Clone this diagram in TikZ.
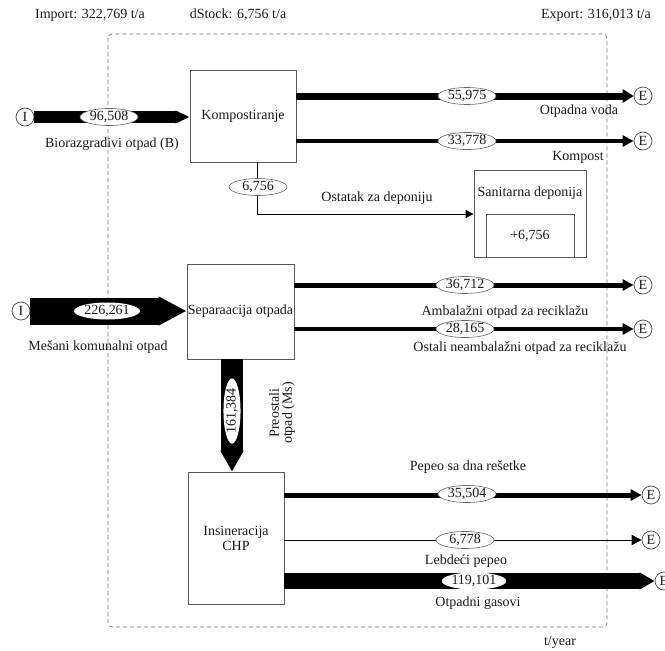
\documentclass[tikz,border=0pt]{standalone}
\usepackage{fontspec}
\setmainfont{Liberation Serif}
\usetikzlibrary{arrows.meta,shapes.geometric,calc}
\begin{document}
\begin{tikzpicture}[x=1pt,y=-1pt,
  every node/.style={font=\fontsize{14}{15}\selectfont, text=black!90},
  proc/.style={draw=black!65, line width=0.8pt, inner sep=0pt},
  io/.style={draw=black!70, circle, line width=0.7pt, minimum size=18pt, inner sep=0pt},
  val/.style={draw=black!60, ellipse, fill=white, line width=0.6pt, inner sep=0.3pt, minimum width=58pt, minimum height=16pt},
  flow/.style={draw=black, line cap=butt},
  bigflow/.style={draw=black, line cap=butt, -{Triangle[length=#1, width=0pt 1]}},
  lbl/.style={inner sep=1pt}
]
\useasboundingbox (0,0) rectangle (665,651);

% system boundary
\draw[black!55, dashed, dash pattern=on 4pt off 3pt, line width=0.7pt, rounded corners=4pt] (108,34) rectangle (607,627);

% top labels
\node[lbl] (imp) at (90,15) {Import: 322,769 t/a};
\node[lbl] (dst) at (238,15) {dStock: 6,756 t/a};
\node[lbl] (exp) at (596,15) {Export: 316,013 t/a};

% processes
\node[proc, minimum width=106pt, minimum height=92pt] (komp) at (243,116) {Kompostiranje};
\node[proc, minimum width=107pt, minimum height=95pt] (sep) at (240.5,311.5) {Separaacija otpada};
\node[proc, minimum width=96pt, minimum height=132pt, align=center] (ins) at (236,538) {Insineracija\\CHP};
\node[proc, minimum width=112pt, minimum height=87pt] (dep) at (530,213.5) {};
\node[proc, minimum width=88pt, minimum height=43pt] (depin) at (530,235.5) {+6,756};
\node[lbl] (deplbl) at (530,193) {Sanitarna deponija};

% import / export circles
\node[io] (I1) at (25,117) {I};
\node[io] (I2) at (21,311) {I};
\node[io] (E1) at (643,96) {E};
\node[io] (E2) at (643,141) {E};
\node[io] (E3) at (643,285) {E};
\node[io] (E4) at (643,329) {E};
\node[io] (E5) at (651,495) {E};
\node[io] (E6) at (651,540) {E};
\node[io] (E7) at (664,581) {E};

% inputs
\draw[bigflow=14pt, line width=12pt] (I1.east) -- (I1.east -| komp.west);
\draw[bigflow=28pt, line width=27pt] (I2.east) -- (I2.east -| sep.west);

% Kompostiranje outputs
\draw[flow, line width=7pt, -{Triangle[length=11pt, width=13pt]}] (komp.east |- E1) -- (E1.west);
\draw[flow, line width=4pt, -{Triangle[length=11pt, width=11pt]}] (komp.east |- E2) -- (E2.west);
\coordinate (ostx) at (257,0);
\coordinate (osty) at (0,214);
\draw[flow, line width=0.9pt, -{Triangle[length=8pt, width=8pt]}] (komp.south -| ostx) -- (ostx |- osty) -- (osty -| dep.west);

% Separacija outputs
\draw[flow, line width=5pt, -{Triangle[length=11pt, width=11pt]}] (sep.east |- E3) -- (E3.west);
\draw[flow, line width=4pt, -{Triangle[length=11pt, width=11pt]}] (sep.east |- E4) -- (E4.west);
\coordinate (dx) at (232,0);
\draw[bigflow=21pt, line width=22pt] (sep.south -| dx) -- (ins.north -| dx);

% Insineracija outputs
\draw[flow, line width=5pt, -{Triangle[length=11pt, width=11pt]}] (ins.east |- E5) -- (E5.west);
\draw[flow, line width=0.9pt, -{Triangle[length=10pt, width=10pt]}] (ins.east |- E6) -- (E6.west);
\draw[bigflow=15pt, line width=16pt] (ins.east |- E7) -- (E7.west);

% values
\node[val] (v1) at (109,117) {96,508};
\node[val] (v2) at (467,96) {55,975};
\node[val] (v3) at (467,141) {33,778};
\node[val] (v4) at (258,187) {6,756};
\node[val, draw=none, minimum width=66pt, minimum height=17pt] (v5) at (107,311) {226,261};
\node[val] (v6) at (465,285) {36,712};
\node[val] (v7) at (465,329) {28,165};
\node[val, draw=none, rotate=90, minimum width=56pt, minimum height=15pt] (v8) at (232,411) {161,384};
\node[val] (v9) at (467,494) {35,504};
\node[val] (v10) at (465,540) {6,778};
\node[val, draw=none, minimum width=58pt, minimum height=14pt] (v11) at (474,581) {119,101};

% flow labels
\node[lbl] (l1) at (112,144) {Biorazgradivi otpad (B)};
\node[lbl] (l2) at (579,111) {Otpadna voda};
\node[lbl] (l3) at (578,157) {Kompost};
\node[lbl] (l4) at (377,198) {Ostatak za deponiju};
\node[lbl] (l5) at (98,347) {Mešani komunalni otpad};
\node[lbl] (l6) at (505,312) {Ambalažni otpad za reciklažu};
\node[lbl] (l7) at (520,348) {Ostali neambalažni otpad za reciklažu};
\node[lbl, rotate=90, align=center, font=\fontsize{14}{13}\selectfont] (l8) at (282,413) {Preostali\\otpad (Ms)};
\node[lbl] (l9) at (468,467) {Pepeo sa dna rešetke};
\node[lbl] (l10) at (466,561) {Lebdeći pepeo};
\node[lbl] (l11) at (478,603) {Otpadni gasovi};
\node[lbl] (unit) at (560,642) {t/year};
\end{tikzpicture}
\end{document}
